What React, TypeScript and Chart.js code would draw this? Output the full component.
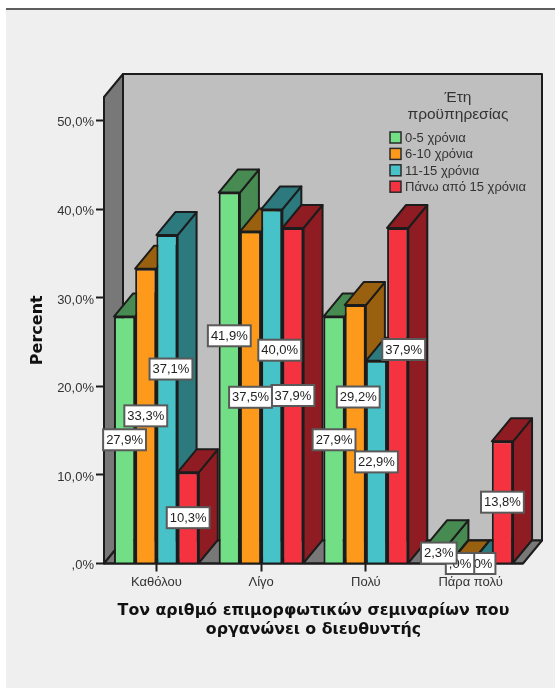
import React, { useEffect, useRef } from "react";
import { Chart, registerables } from "chart.js";

Chart.register(...registerables);

const categories = ["Καθόλου", "Λίγο", "Πολύ", "Πάρα πολύ"];
const seriesNames = ["0-5 χρόνια", "6-10 χρόνια", "11-15 χρόνια", "Πάνω από 15 χρόνια"];
const years0to5 = [27.9, 41.9, 27.9, 2.3];
const years6to10 = [33.3, 37.5, 29.2, 0];
const years11to15 = [37.1, 40.0, 22.9, 0];
const yearsOver15 = [10.3, 37.9, 37.9, 13.8];
const legendHeading = ["Έτη", "προϋπηρεσίας"];
const axisTitleX = ["Τον αριθμό επιμορφωτικών σεμιναρίων που", "οργανώνει ο διευθυντής"];
const axisTitleY = "Percent";

const frontColors = ["#72DE85", "#FD9A1C", "#46C2C8", "#F43240"];
const shadeColors = ["#478B52", "#98600F", "#2C797E", "#8F1C22"];

// Pixel nudges for value boxes that would otherwise collide: [dx, dy] per series and category.
const labelNudges: [number, number][][] = [
  [[0, 0], [0, -42], [0, 0], [0, 0]],
  [[0, 0], [0, 0], [3, -37], [0, 0]],
  [[4, -30], [8, -36], [0, 0], [0, 0]],
  [[0, 0], [0, 0], [6, -46], [0, 0]],
];

const DEPTH_X = 19;
const DEPTH_Y = 23;
const EDGE = "#1c1c1c";
const INK = "#333333";
const SANS = "'Liberation Sans', Arial, sans-serif";

function poly(ctx: CanvasRenderingContext2D, pts: number[][], fill: string, lineWidth = 2) {
  ctx.beginPath();
  pts.forEach(([x, y], i) => (i ? ctx.lineTo(x, y) : ctx.moveTo(x, y)));
  ctx.closePath();
  ctx.fillStyle = fill;
  ctx.fill();
  ctx.lineWidth = lineWidth;
  ctx.strokeStyle = EDGE;
  ctx.lineJoin = "round";
  ctx.stroke();
}

function percentText(v: number) {
  const s = v.toFixed(1).replace(".", ",");
  return (s.startsWith("0,") ? s.slice(1) : s) + "%";
}

// Back wall, side wall and floor of the 3D box, then the top and side of every bar.
const boxAndDepth = {
  id: "boxAndDepth",
  beforeDatasetsDraw(chart: any) {
    const { ctx, chartArea: a } = chart;
    ctx.save();
    poly(ctx, [[a.left + DEPTH_X, a.top - DEPTH_Y], [a.right + DEPTH_X, a.top - DEPTH_Y], [a.right + DEPTH_X, a.bottom - DEPTH_Y], [a.left + DEPTH_X, a.bottom - DEPTH_Y]], "#BFBFBF");
    poly(ctx, [[a.left, a.top], [a.left + DEPTH_X, a.top - DEPTH_Y], [a.left + DEPTH_X, a.bottom - DEPTH_Y], [a.left, a.bottom]], "#787878");
    poly(ctx, [[a.left, a.bottom], [a.left + DEPTH_X, a.bottom - DEPTH_Y], [a.right + DEPTH_X, a.bottom - DEPTH_Y], [a.right, a.bottom]], "#787878");

    categories.forEach((_, c) => {
      chart.data.datasets.forEach((_ds: any, d: number) => {
        const bar = chart.getDatasetMeta(d).data[c].getProps(["x", "y", "base", "width"], true);
        const l = bar.x - bar.width / 2;
        const r = bar.x + bar.width / 2;
        poly(ctx, [[r, bar.y], [r + DEPTH_X, bar.y - DEPTH_Y], [r + DEPTH_X, bar.base - DEPTH_Y], [r, bar.base]], shadeColors[d]);
        poly(ctx, [[l, bar.y], [l + DEPTH_X, bar.y - DEPTH_Y], [r + DEPTH_X, bar.y - DEPTH_Y], [r, bar.y]], shadeColors[d]);
      });
    });
    ctx.restore();
  },
  afterDatasetsDraw(chart: any) {
    const { ctx, chartArea: a } = chart;
    ctx.save();
    // Front edge of the floor sits above the bar feet.
    ctx.strokeStyle = EDGE;
    ctx.lineWidth = 2;
    ctx.beginPath();
    ctx.moveTo(a.left, a.bottom);
    ctx.lineTo(a.right, a.bottom);
    ctx.stroke();

    // Value boxes at mid-height of each bar; the first series ends up on top.
    ctx.font = `13px ${SANS}`;
    ctx.textAlign = "center";
    ctx.textBaseline = "middle";
    for (let d = chart.data.datasets.length - 1; d >= 0; d--) {
      const ds = chart.data.datasets[d];
      chart.getDatasetMeta(d).data.forEach((el: any, c: number) => {
        const bar = el.getProps(["x", "y", "base"], true);
        const [nx, ny] = labelNudges[d][c];
        const text = percentText(ds.data[c]);
        const w = ctx.measureText(text).width + 6;
        const x = bar.x + nx;
        const y = (bar.y + bar.base) / 2 + ny;
        ctx.fillStyle = "#FFFFFF";
        ctx.strokeStyle = "#5A5A5A";
        ctx.lineWidth = 2;
        ctx.fillRect(x - w / 2, y - 10.5, w, 21);
        ctx.strokeRect(x - w / 2, y - 10.5, w, 21);
        ctx.fillStyle = "#222222";
        ctx.fillText(text, x, y + 0.5);
      });
    }
    ctx.restore();
  },
};

// Legend heading and swatches inside the back wall.
const wallLegend = {
  id: "wallLegend",
  afterDraw(chart: any) {
    const { ctx } = chart;
    ctx.save();
    ctx.fillStyle = INK;
    ctx.textAlign = "center";
    ctx.textBaseline = "middle";
    ctx.font = `15.5px ${SANS}`;
    legendHeading.forEach((line, i) => ctx.fillText(line, 458, 98 + i * 17));
    ctx.textAlign = "left";
    ctx.font = `13px ${SANS}`;
    chart.data.datasets.forEach((ds: any, i: number) => {
      const y = 132 + i * 16.4;
      ctx.fillStyle = frontColors[i];
      ctx.strokeStyle = "#2A2A2A";
      ctx.lineWidth = 1.5;
      ctx.fillRect(390, y, 11, 11);
      ctx.strokeRect(390, y, 11, 11);
      ctx.fillStyle = INK;
      ctx.fillText(ds.label, 405, y + 6.5);
    });
    ctx.restore();
  },
};

export default function App() {
  const ref = useRef<HTMLCanvasElement>(null);

  useEffect(() => {
    const values = [years0to5, years6to10, years11to15, yearsOver15];
    const chart = new Chart(ref.current!, {
      type: "bar",
      data: {
        labels: categories,
        datasets: values.map((data, i) => ({
          label: seriesNames[i],
          data,
          backgroundColor: frontColors[i],
          borderColor: EDGE,
          borderWidth: 2,
          barPercentage: 1,
          categoryPercentage: 0.81,
        })),
      },
      options: {
        responsive: false,
        animation: false,
        layout: { padding: { left: 28, top: 97, right: 32, bottom: 0 } },
        plugins: { legend: { display: false }, tooltip: { enabled: false } },
        scales: {
          x: {
            afterFit: (s: any) => { s.height = 124.5; },
            border: { display: false },
            grid: { display: true, drawOnChartArea: false, offset: false, tickLength: 8, tickWidth: 2, tickColor: EDGE },
            ticks: { color: INK, font: { family: SANS, size: 13 }, padding: 3, maxRotation: 0 },
            title: {
              display: true,
              text: axisTitleX,
              color: "#111111",
              font: { family: "'DejaVu Sans'", size: 15.8, weight: "bold", lineHeight: 1.2 },
              padding: { top: 0, bottom: 49 },
            },
          },
          y: {
            min: 0,
            max: 52.7,
            afterFit: (s: any) => { s.width = 76; },
            afterBuildTicks: (s: any) => { s.ticks = s.ticks.filter((t: any) => t.value <= 50); },
            border: { display: false },
            grid: { display: true, drawOnChartArea: false, tickLength: 8, tickWidth: 2, tickColor: EDGE },
            ticks: {
              stepSize: 10,
              color: INK,
              font: { family: SANS, size: 13 },
              padding: 2,
              labelOffset: 2,
              callback: (v: any) => percentText(Number(v)),
            },
            title: {
              display: true,
              text: axisTitleY,
              color: "#111111",
              font: { family: "'DejaVu Sans'", size: 16, weight: "bold" },
              padding: 0,
            },
          },
        },
      },
      plugins: [boxAndDepth, wallLegend],
    } as any);
    return () => chart.destroy();
  }, []);

  return (
    <div style={{ position: "absolute", left: 0, top: 0, width: 555, height: 688, overflow: "hidden", background: "#FFFFFF" }}>
      <div style={{ position: "absolute", left: 6, top: 8, right: 0, bottom: 0, background: "#EFEFEF", borderTop: "2px solid #5E5E5E" }} />
      <canvas ref={ref} width={555} height={688} style={{ position: "absolute", left: 0, top: 0 }} />
    </div>
  );
}
